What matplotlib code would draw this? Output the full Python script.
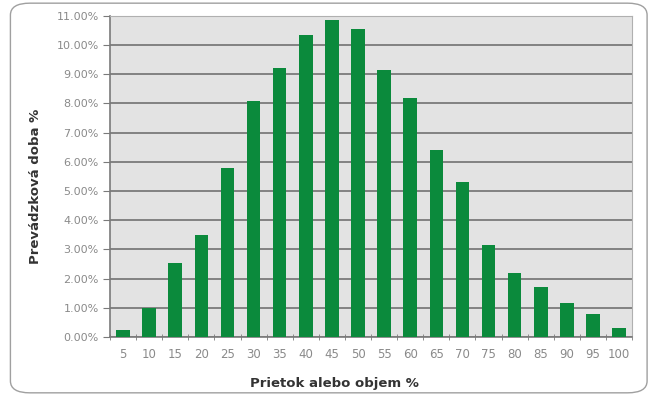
import numpy as np
import matplotlib.pyplot as plt
from matplotlib.patches import FancyBboxPatch
from matplotlib.ticker import FuncFormatter

# flow share (%) and share of operating time (%)
flow = ['5', '10', '15', '20', '25', '30', '35', '40', '45', '50',
        '55', '60', '65', '70', '75', '80', '85', '90', '95', '100']
time_share = [0.25, 1.0, 2.55, 3.5, 5.8, 8.1, 9.2, 10.35, 10.85, 10.55,
              9.15, 8.2, 6.4, 5.3, 3.15, 2.2, 1.7, 1.15, 0.8, 0.3]

BAR_GREEN = '#0b8a3c'
GRID_GREY = '#7a7a7a'
TEXT_GREY = '#8a8a8a'

fig = plt.figure(figsize=(6.51, 3.96), dpi=100)
fig.patch.set_facecolor('white')

# rounded frame around the whole chart
frame = FancyBboxPatch((0.016, 0.008), 0.978, 0.984,
                       boxstyle='round,pad=0,rounding_size=0.03',
                       transform=fig.transFigure, facecolor='none',
                       edgecolor='#a0a0a0', linewidth=1.0)
fig.patches.append(frame)

ax = fig.add_axes([0.169, 0.149, 0.802, 0.811])
ax.set_facecolor('#e3e3e3')

x = np.arange(len(flow))
ax.bar(x, time_share, width=0.52, color=BAR_GREEN, zorder=3)

ax.set_xlim(-0.5, len(flow) - 0.5)
ax.set_ylim(0, 11)
ax.set_yticks(np.arange(0, 12, 1))
ax.yaxis.set_major_formatter(FuncFormatter(lambda v, _: f'{v:.2f}%'))
ax.yaxis.grid(True, color=GRID_GREY, linewidth=1.3, zorder=1)
ax.set_axisbelow(True)

# category labels centred, tick marks between the categories
ax.set_xticks(x)
ax.set_xticklabels(flow)
ax.set_xticks(np.arange(-0.5, len(flow), 1), minor=True)
ax.tick_params(axis='x', which='major', length=0, pad=8,
               labelsize=8.5, labelcolor=TEXT_GREY)
ax.tick_params(axis='x', which='minor', length=4, color=GRID_GREY,
               direction='inout')
ax.tick_params(axis='y', length=5, color=GRID_GREY, labelsize=8,
               labelcolor=TEXT_GREY, pad=3)

for side in ['top', 'right']:
    ax.spines[side].set_color('#b0b0b0')
    ax.spines[side].set_linewidth(0.8)
for side in ['left', 'bottom']:
    ax.spines[side].set_color(GRID_GREY)
    ax.spines[side].set_linewidth(1.2)

ax.set_xlabel('Prietok alebo objem %', fontsize=9.5, fontweight='bold',
              color='#333333', labelpad=12)
ax.set_ylabel('Prevádzková doba %', fontsize=9.5, fontweight='bold',
              color='#333333', labelpad=12)
ax.xaxis.set_label_coords(0.43, -0.125)
ax.yaxis.set_label_coords(-0.13, 0.47)

fig.savefig('out.png', dpi=100)
